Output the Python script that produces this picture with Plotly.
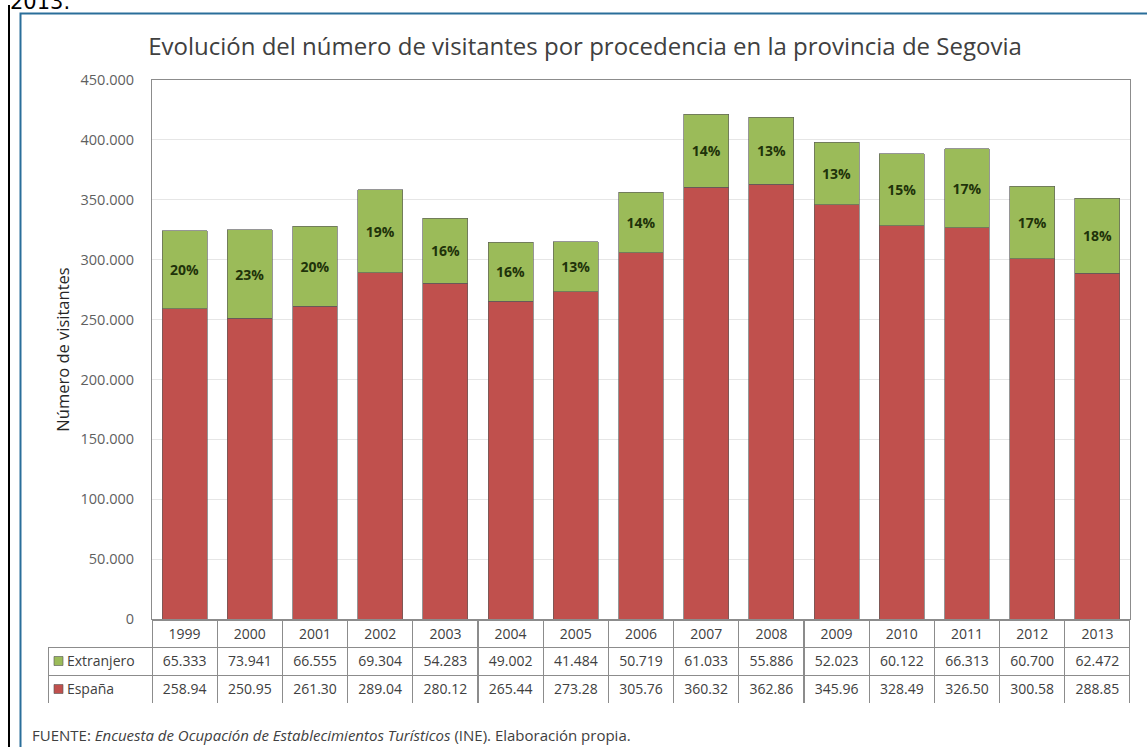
import plotly.graph_objects as go

# ---------------- data ----------------
years = ["1999", "2000", "2001", "2002", "2003", "2004", "2005", "2006",
         "2007", "2008", "2009", "2010", "2011", "2012", "2013"]
extranjero = [65333, 73941, 66555, 69304, 54283, 49002, 41484, 50719,
              61033, 55886, 52023, 60122, 66313, 60700, 62472]
espana = [258940, 250950, 261300, 289040, 280120, 265440, 273280, 305760,
          360320, 362860, 345960, 328490, 326500, 300580, 288850]
y_ticks = [0, 50000, 100000, 150000, 200000, 250000, 300000, 350000, 400000, 450000]

# ---------------- styles ----------------
W, H = 1147, 747
RED = "#C0504D"
GREEN = "#9BBB59"
FONT = "Open Sans"
GREY_TXT = "#404040"
CLEAR = "rgba(0,0,0,0)"

def px_x(p):
    return p / W

def px_y(p):
    return 1 - p / H

pct_labels = [f"{round(e / (e + s) * 100)}%" for e, s in zip(extranjero, espana)]
ext_txt = [f"{v:,}".replace(",", ".") for v in extranjero]
esp_txt = [f"{v / 1000:.2f}" for v in espana]

plot_l, plot_r, plot_t, plot_b = 152, 1130, 80, 619
tab_l, tab_t, tab_b = 48, 620, 704

fig = go.Figure()
fig.add_trace(go.Bar(
    x=years, y=espana, name="España",
    marker=dict(color=RED, line=dict(color="rgba(90,90,90,0.8)", width=0.8)),
    hoverinfo="x+y",
))
fig.add_trace(go.Bar(
    x=years, y=extranjero, name="Extranjero",
    marker=dict(color=GREEN, line=dict(color="rgba(90,90,90,0.8)", width=0.8)),
    text=pct_labels, textposition="inside", insidetextanchor="middle",
    textangle=0,
    textfont=dict(family=FONT, size=14, color="#1F330A", weight="bold"),
    hoverinfo="x+y",
))

# data table below the chart
first_col_w = plot_l - tab_l
col_w = (plot_r - plot_l) / len(years)
header_line_colors = [CLEAR] + ["#8c8c8c"] * len(years)
header_fill_colors = [CLEAR] + ["white"] * len(years)
fig.add_trace(go.Table(
    domain=dict(x=[px_x(tab_l), px_x(plot_r)], y=[px_y(tab_b), px_y(tab_t)]),
    columnwidth=[first_col_w] + [col_w] * len(years),
    header=dict(
        values=[""] + years,
        align="center",
        height=27,
        fill=dict(color=header_fill_colors),
        line=dict(color=header_line_colors, width=1),
        font=dict(family=FONT, size=14, color=GREY_TXT),
    ),
    cells=dict(
        values=[["   Extranjero", "   España"]]
               + [[e, s] for e, s in zip(ext_txt, esp_txt)],
        align=["left"] + ["center"] * len(years),
        height=28,
        fill=dict(color="white"),
        line=dict(color="#8c8c8c", width=1),
        font=dict(family=FONT, size=14, color=GREY_TXT),
    ),
))

# legend keys inside the table's first column
key_shapes = []
for i, col in enumerate([GREEN, RED]):
    cy = tab_t + 27 + 28 * i + 14
    key_shapes.append(dict(
        type="rect", xref="paper", yref="paper",
        x0=px_x(tab_l + 6), x1=px_x(tab_l + 15),
        y0=px_y(cy + 4.5), y1=px_y(cy - 4.5),
        fillcolor=col, line=dict(color="rgba(90,90,90,0.8)", width=0.8),
    ))

fig.update_layout(
    width=W, height=H,
    margin=dict(l=0, r=0, t=0, b=0),
    paper_bgcolor="white", plot_bgcolor="white",
    barmode="stack", bargap=0.31,
    showlegend=False,
    separators=",.",
    font=dict(family=FONT, color=GREY_TXT),
    title=dict(
        text="Evolución del número de visitantes por procedencia en la provincia de Segovia",
        x=585 / W, y=px_y(47), xanchor="center", yanchor="middle",
        font=dict(family=FONT, size=24, color="#404040"),
    ),
    xaxis=dict(
        domain=[px_x(plot_l), px_x(plot_r)],
        showticklabels=False, ticks="",
        showline=True, linecolor="#8c8c8c", linewidth=1, mirror=True,
        showgrid=False, automargin=False,
    ),
    yaxis=dict(
        domain=[px_y(plot_b), px_y(plot_t)],
        range=[0, 450000], tickvals=y_ticks, tickformat=",d",
        tickfont=dict(family=FONT, size=14.5, color="#5f5f5f"),
        ticklabelstandoff=14,
        showline=True, linecolor="#8c8c8c", linewidth=1, mirror=True,
        showgrid=True, gridcolor="#E6E6E6", gridwidth=1,
        zeroline=False, automargin=False,
        title=dict(text="Número de visitantes", standoff=6,
                   font=dict(family=FONT, size=16.5, color="#262626")),
    ),
    shapes=[
        # document margin line and blue chart frame
        dict(type="line", xref="paper", yref="paper",
             x0=px_x(9), x1=px_x(9), y0=0, y1=px_y(5),
             line=dict(color="black", width=2)),
        dict(type="rect", xref="paper", yref="paper",
             x0=px_x(20.5), x1=px_x(W + 5), y0=px_y(H + 5), y1=px_y(13.5),
             line=dict(color="#2A6E9A", width=2), fillcolor=CLEAR),
    ] + key_shapes,
    annotations=[
        dict(text="2013.", xref="paper", yref="paper", x=px_x(8), y=px_y(1.5),
             xanchor="left", yanchor="middle", showarrow=False,
             font=dict(family="DejaVu Sans", size=21, color="black")),
        dict(text="FUENTE: <i>Encuesta de Ocupación de Establecimientos Turísticos</i> (INE). Elaboración propia.",
             xref="paper", yref="paper", x=px_x(30), y=px_y(735),
             xanchor="left", yanchor="middle", showarrow=False,
             font=dict(family=FONT, size=15, color=GREY_TXT)),
    ],
)

fig.write_html("out.html", config={"displayModeBar": False},
               post_script="document.body.style.margin='0';")
